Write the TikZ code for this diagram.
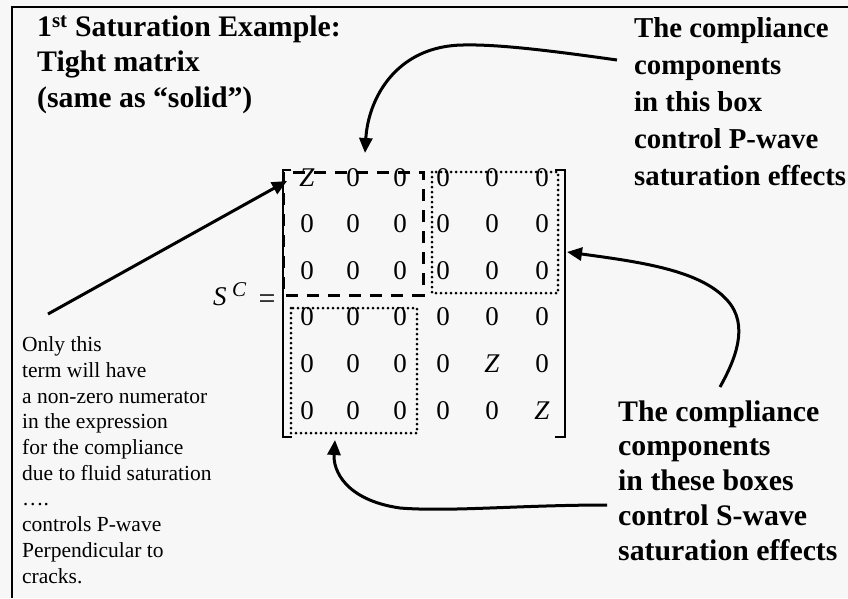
\documentclass[tikz,border=0pt]{standalone}
\usepackage{fontspec}
\setmainfont{Liberation Serif}
\usetikzlibrary{arrows.meta}
\definecolor{bg}{RGB}{247,247,247}
\tikzset{
  bigbold/.style={anchor=base west, inner sep=0pt, align=left, font=\fontsize{29.8}{35.3}\selectfont\bfseries},
  topright/.style={anchor=base west, inner sep=0pt, align=left, font=\fontsize{28.8}{36.8}\selectfont\bfseries},
  lowright/.style={anchor=base west, inner sep=0pt, align=left, font=\fontsize{29.8}{34.75}\selectfont\bfseries},
  small/.style={anchor=base west, inner sep=0pt, align=left, font=\fontsize{21.5}{25.7}\selectfont},
  entry/.style={inner sep=0pt, font=\fontsize{27}{27}\selectfont},
  frame/.style={line width=2pt},
  brack/.style={line width=2pt},
  dashbox/.style={line width=3pt, dash pattern=on 12pt off 9pt},
  dotbox/.style={line width=3pt, line cap=round, dash pattern=on 0pt off 5pt},
  callout/.style={line width=3pt, -{Triangle[length=15pt,width=13pt]}},
}
\begin{document}
\begin{tikzpicture}[x=1pt,y=-1pt]
\useasboundingbox (0,0) rectangle (848,598);
\fill[bg] (0,0) rectangle (848,598);
% frame
\draw[frame] (12,598) -- (12,7) -- (848,7);

% texts (base anchor = baseline of the last line)
\node[bigbold] (title) at (37,107) {1\textsuperscript{st} Saturation Example:\\Tight matrix\\(same as “solid”)};
\node[topright] (ptext) at (634,185) {The compliance\\components\\in this box\\control P-wave\\saturation effects};
\node[lowright] (stext) at (618,560) {The compliance\\components\\in these boxes\\control S-wave\\saturation effects};
\node[small] (ltext) at (22,583) {Only this\\term will have\\a non-zero numerator\\in the expression\\for the compliance\\due to fluid saturation\\….\\controls P-wave\\Perpendicular to\\cracks.};

% S^C =
\node[anchor=base west, inner sep=0pt, font=\fontsize{27}{27}\selectfont] (S) at (213,305) {\textit{S}};
\node[anchor=base west, inner sep=0pt, font=\fontsize{21}{21}\selectfont] (C) at (232,296) {\textit{C}};
\node[anchor=center, inner sep=0pt, font=\fontsize{30}{30}\selectfont] (eq) at (267,302) {=};

% matrix entries
\foreach \r/\y in {1/177.5,2/224,3/271,4/317,5/364,6/411}{
  \foreach \c/\x in {1/307,2/353,3/400,4/443,5/492,6/542}{
    \pgfmathtruncatemacro{\isz}{(\r==\c && (\r==1 || \r==5 || \r==6)) ? 1 : 0}
    \ifnum\isz=1
      \node[entry] (m\r\c) at (\x,\y) {\textit{Z}};
    \else
      \node[entry] (m\r\c) at (\x,\y) {0};
    \fi
  }
}

% brackets
\draw[brack] (291,170) -- (283,170) -- (283,437) -- (292,437);
\draw[brack] (555,170) -- (565,170) -- (565,437) -- (555,437);

% boxes
\draw[dashbox] (283,172) rectangle (423,295);
\draw[dotbox] (432,172) rectangle (558,293);
\draw[dotbox] (291,308) rectangle (417,433);

% callout end points
\coordinate (a1s) at (617,60);
\coordinate (a1e) at (365,153);
\coordinate (a2s) at (48,314);
\coordinate (a2e) at (287,181);
\coordinate (a3s) at (720,387);
\coordinate (a3e) at (567,252);
\coordinate (a4s) at (607,505);
\coordinate (a4e) at (335,440);

\draw[callout] (a1s) .. controls (560,52) and (500,44) .. (463,45) .. controls (395,46) and (368,100) .. (a1e);
\draw[callout] (a2s) -- (a2e);
\draw[callout] (a3s) .. controls (735,360) and (750,325) .. (727,300) .. controls (700,270) and (640,262) .. (a3e);
\draw[callout] (a4s) .. controls (520,505) and (450,512) .. (400,508) .. controls (345,500) and (333,470) .. (a4e);
\end{tikzpicture}
\end{document}
